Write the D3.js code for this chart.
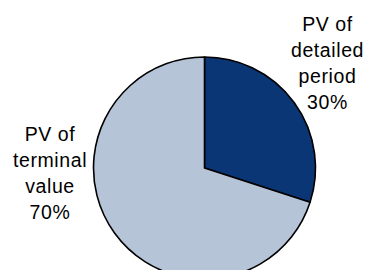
<!DOCTYPE html>
<html>
<head>
<script src="https://cdnjs.cloudflare.com/ajax/libs/d3/7.8.5/d3.min.js"></script>
<style>
body { margin: 0; background: #fff; }
</style>
</head>
<body>
<script>
var labels = [["PV of", "detailed", "period", "30%"], ["PV of", "terminal", "value", "70%"]];
var values = [30, 70];
var colors = ["#0b3676", "#b6c4d8"];

var width = 366, height = 270;
var cx = 204.5, cy = 168, radius = 111;

var svg = d3.select("body").append("svg")
	.attr("width", width)
	.attr("height", height);

var pie = d3.pie().sort(null).value(function(d){ return d; });
var arc = d3.arc().innerRadius(0).outerRadius(radius);

var g = svg.append("g").attr("transform", "translate(" + cx + "," + cy + ")");

g.selectAll("path")
	.data(pie(values))
	.enter().append("path")
	.attr("d", arc)
	.attr("fill", function(d, i){ return colors[i]; })
	.attr("stroke", "#000")
	.attr("stroke-width", 1.6)
	.attr("stroke-linejoin", "round");

// label anchors (centre x, first baseline)
var labelPos = [[327.5, 30.5], [50, 140.7]];

labels.forEach(function(lines, i){
	var t = svg.append("text")
		.attr("text-anchor", "middle")
		.attr("font-family", "Liberation Sans, Arial, sans-serif")
		.attr("font-size", "19.5px")
		.attr("letter-spacing", "0.6px")
		.attr("fill", "#000");
	lines.forEach(function(s, j){
		t.append("tspan")
			.attr("x", labelPos[i][0])
			.attr("y", labelPos[i][1] + j * 26)
			.text(s);
	});
});
</script>
</body>
</html>
